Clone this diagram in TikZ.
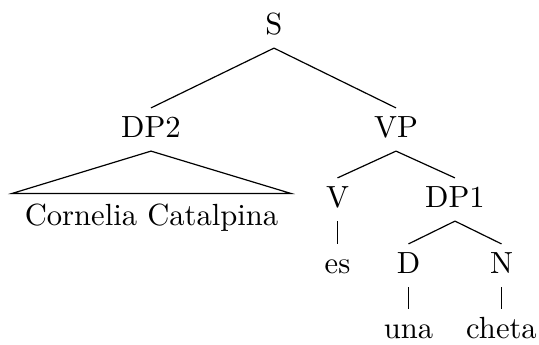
\documentclass[tikz,border=0pt]{standalone}
\usepackage{amsmath,amssymb}
\usepackage{tikz}
\usepackage{xcolor}

\tikzset{
  lbl/.style={anchor=base,inner sep=2pt,text height=7.5pt,text depth=2.5pt,
    font=\fontsize{10.2}{12.2}\selectfont},
  roofed/.style={lbl,inner xsep=4.1pt,inner ysep=2.8pt}
}

\begin{document}
\begin{tikzpicture}[x=0.3333pt,y=0.3333pt,yscale=-1,xscale=1]
			\useasboundingbox (0,0) rectangle (539,344);
			
			% Text Node
			\node (S) [lbl] at (274,34) {S};
			% Text Node
			\node (DP2) [lbl] at (151,137) {DP2};
			% Text Node
			\node (VP) [lbl] at (396,137) {VP};
			% Text Node
			\node (CC) [roofed] at (151.5,225) {Cornelia Catalpina};
			% Text Node
			\node (V) [lbl] at (337.5,207) {V};
			% Text Node
			\node (DP1) [lbl] at (455,207) {DP1};
			% Text Node
			\node (es) [lbl] at (337.5,273) {es};
			% Text Node
			\node (D) [lbl] at (408.5,273) {D};
			% Text Node
			\node (N) [lbl] at (501.5,273) {N};
			% Text Node
			\node (una) [lbl] at (408.5,338) {una};
			% Text Node
			\node (cheta) [lbl] at (501.5,338) {cheta};
			
			%Straight Lines
			\draw (S.south) -- (DP2.north) ;
			%Straight Lines
			\draw (S.south) -- (VP.north) ;
			%Shape: Triangle
			\draw (DP2.south) -- (CC.north west) -- (CC.north east) -- cycle ;
			%Straight Lines
			\draw (VP.south) -- (V.north) ;
			%Straight Lines
			\draw (VP.south) -- (DP1.north) ;
			%Straight Lines
			\draw (V.south) -- (es.north) ;
			%Straight Lines
			\draw (DP1.south) -- (D.north) ;
			%Straight Lines
			\draw (DP1.south) -- (N.north) ;
			%Straight Lines
			\draw (D.south) -- (una.north) ;
			%Straight Lines
			\draw (N.south) -- (cheta.north) ;
		\end{tikzpicture}
\end{document}
